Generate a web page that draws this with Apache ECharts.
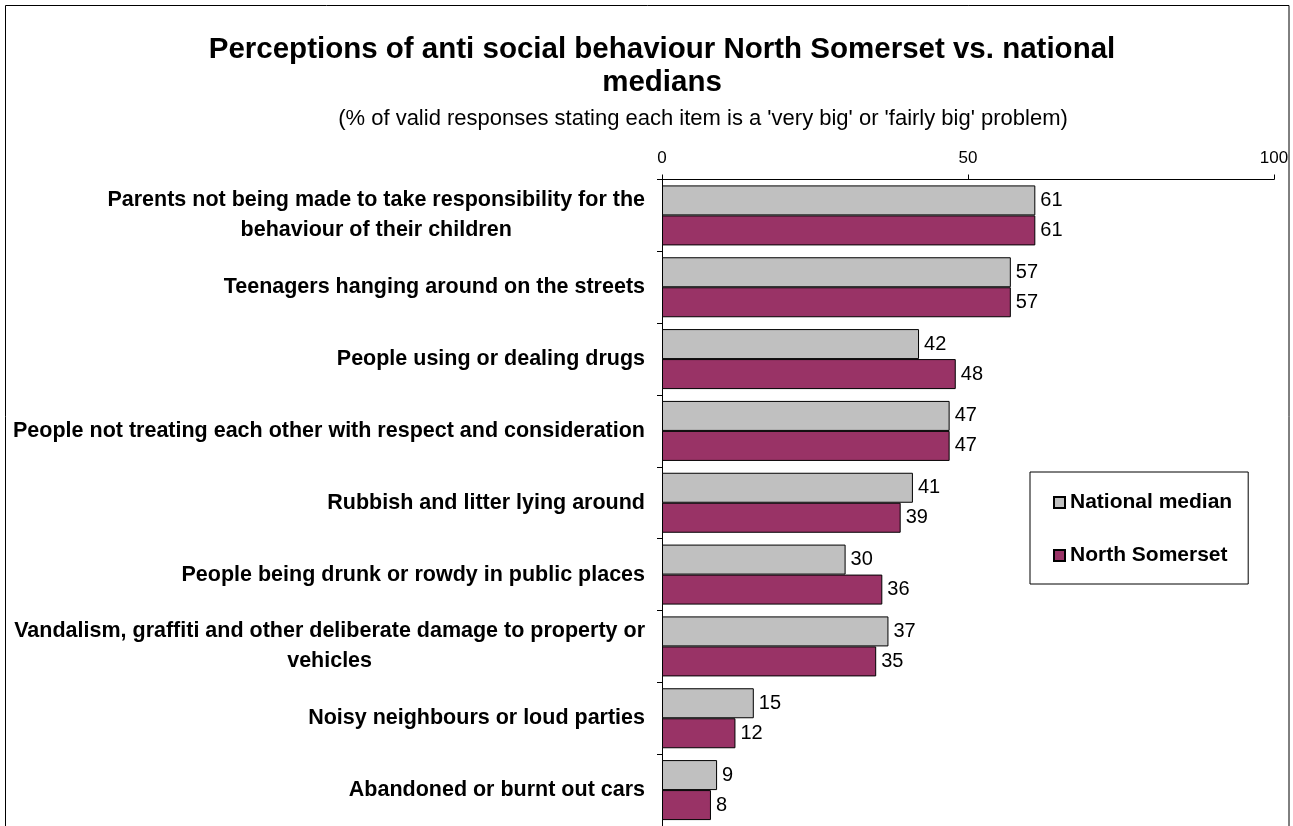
<!DOCTYPE html>
<html>
<head>
<meta charset="utf-8">
<script src="https://cdn.jsdelivr.net/npm/echarts@6/dist/echarts.min.js"></script>
<style>
  html, body { margin: 0; padding: 0; background: #fff; }
  #chart { width: 1293px; height: 826px; }
</style>
</head>
<body>
<div id="chart"></div>
<script>
const categories = [
  'Parents not being made to take responsibility for the\nbehaviour of their children',
  'Teenagers hanging around on the streets',
  'People using or dealing drugs',
  'People not treating each other with respect and consideration',
  'Rubbish and litter lying around',
  'People being drunk or rowdy in public places',
  'Vandalism, graffiti and other deliberate damage to property or\nvehicles',
  'Noisy neighbours or loud parties',
  'Abandoned or burnt out cars'
];
const nationalMedian = [61, 57, 42, 47, 41, 30, 37, 15, 9];
const northSomerset = [61, 57, 48, 47, 39, 36, 35, 12, 8];
const seriesNames = ['National median', 'North Somerset'];

const FONT = '"Liberation Sans", Arial, sans-serif';

const chart = echarts.init(document.getElementById('chart'), null, { renderer: 'canvas' });

function barSeries(name, data, color) {
  return {
    name: name,
    type: 'bar',
    data: data,
    barWidth: 30,
    barGap: '0%',
    itemStyle: { color: color, borderColor: '#000', borderWidth: 1 },
    label: {
      show: true,
      position: 'right',
      distance: 5,
      color: '#000',
      fontFamily: FONT,
      fontSize: 20
    }
  };
}

chart.setOption({
  backgroundColor: '#fff',
  animation: false,
  title: [
    {
      text: 'Perceptions of anti social behaviour North Somerset vs. national\nmedians',
      left: 662,
      top: 33,
      textAlign: 'center',
      padding: 0,
      textStyle: { fontFamily: FONT, fontSize: 29.5, fontWeight: 'bold', color: '#000', lineHeight: 33 }
    },
    {
      text: "(% of valid responses stating each item is a 'very big' or 'fairly big' problem)",
      left: 703,
      top: 108,
      textAlign: 'center',
      padding: 0,
      textStyle: { fontFamily: FONT, fontSize: 22, fontWeight: 'normal', color: '#000' }
    }
  ],
  legend: {
    orient: 'vertical',
    left: 1030,
    top: 472,
    data: seriesNames,
    icon: 'rect',
    itemWidth: 11,
    itemHeight: 11,
    itemGap: 32,
    padding: [20, 16, 18, 23],
    borderColor: '#000',
    borderWidth: 1,
    backgroundColor: '#fff',
    textStyle: { fontFamily: FONT, fontSize: 21, fontWeight: 'bold', color: '#000' }
  },
  grid: { left: 662, top: 179.5, width: 612, height: 649, containLabel: false },
  xAxis: {
    type: 'value',
    position: 'top',
    min: 0,
    max: 100,
    interval: 50,
    axisLine: { show: true, lineStyle: { color: '#000', width: 1 } },
    axisTick: { show: true, length: 5, lineStyle: { color: '#000' } },
    axisLabel: { fontFamily: FONT, fontSize: 17, color: '#000', margin: 13 },
    splitLine: { show: false }
  },
  yAxis: {
    type: 'category',
    inverse: true,
    data: categories,
    axisLine: { show: true, lineStyle: { color: '#000', width: 1 } },
    axisTick: { show: true, length: 5, lineStyle: { color: '#000' } },
    axisLabel: {
      margin: 17,
      color: '#000',
      fontFamily: FONT,
      fontSize: 21.5,
      fontWeight: 'bold',
      lineHeight: 30,
      formatter: function (v) {
        return v.split('\n').map(function (line) { return '{c|' + line + '}'; }).join('\n');
      },
      rich: {
        c: { align: 'center', fontFamily: FONT, fontSize: 21.5, fontWeight: 'bold', color: '#000', lineHeight: 30 }
      }
    }
  },
  series: [
    barSeries(seriesNames[0], nationalMedian, '#C0C0C0'),
    barSeries(seriesNames[1], northSomerset, '#993366')
  ],
  graphic: [
    {
      type: 'rect',
      silent: true,
      z: -1,
      shape: { x: 5.5, y: 5.5, width: 1283.5, height: 900 },
      style: { fill: null, stroke: '#000', lineWidth: 1 }
    }
  ]
});
</script>
</body>
</html>
